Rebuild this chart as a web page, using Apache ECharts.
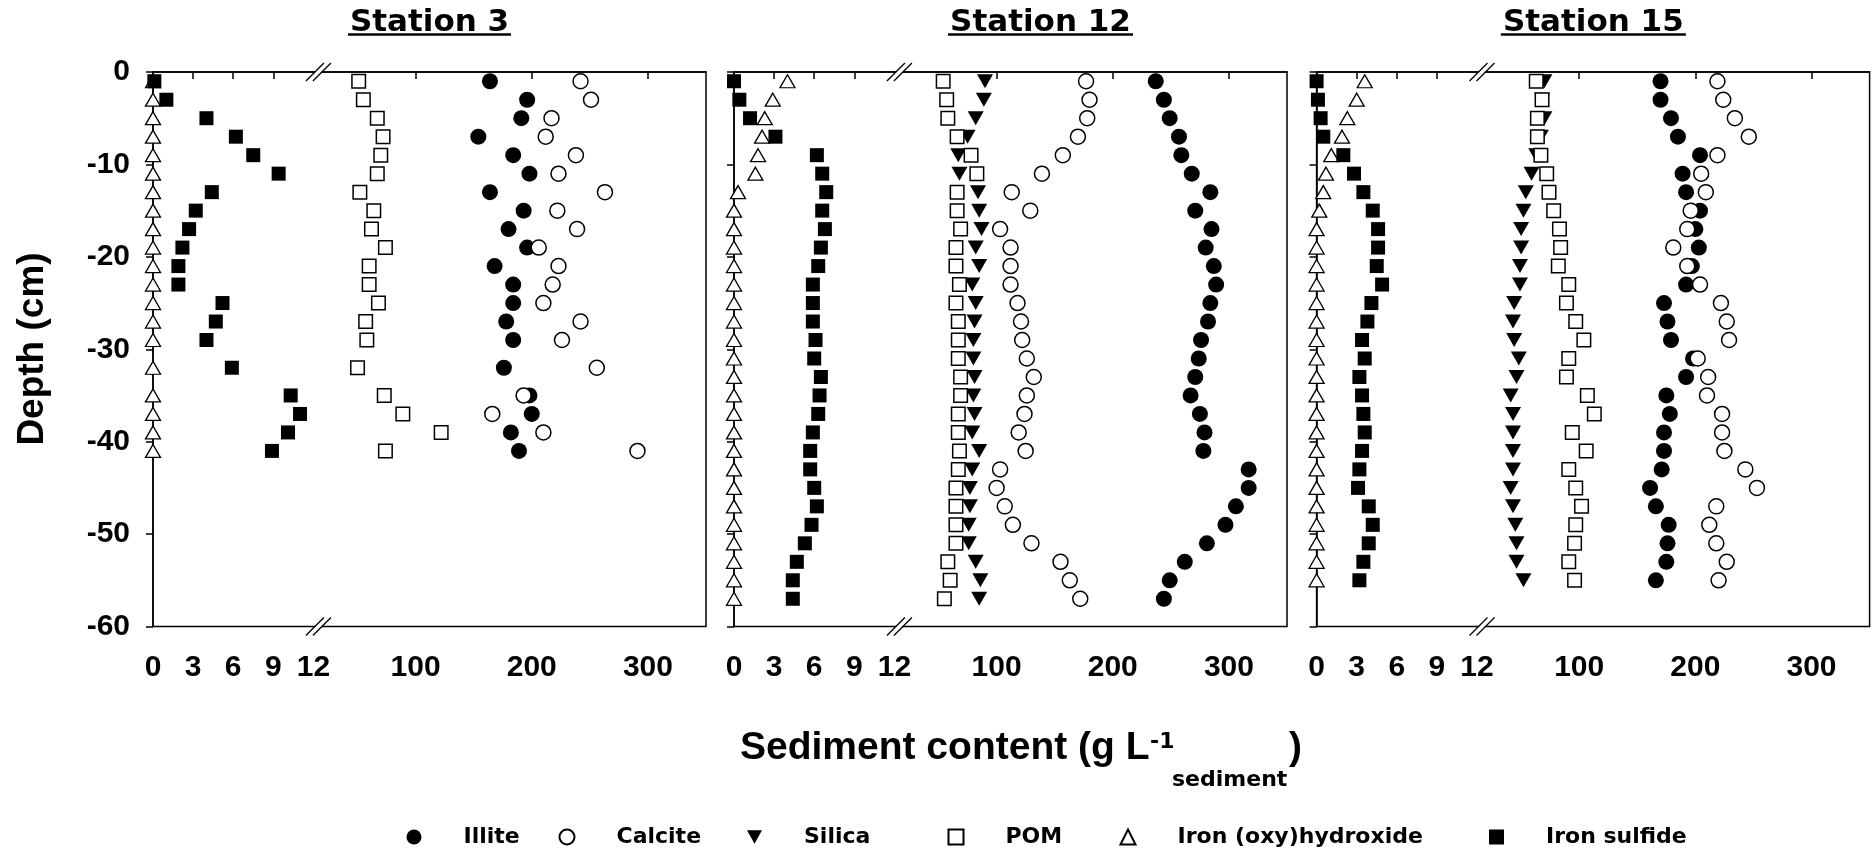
<!DOCTYPE html>
<html><head><meta charset="utf-8">
<script src="https://cdn.jsdelivr.net/npm/echarts@6/dist/echarts.min.js"></script>
<style>html,body{margin:0;padding:0;background:#fff}#c{width:1872px;height:852px}</style>
</head><body><div id="c"></div>
<script>
// ---------- DATA ----------
const stationNames = ['Station 3', 'Station 12', 'Station 15'];
const seriesNames = ['Illite', 'Calcite', 'Silica', 'POM', 'Iron (oxy)hydroxide', 'Iron sulfide'];
const depthTicks = [0, -10, -20, -30, -40, -50, -60];
const lowTickLabels = [0, 3, 6, 9, 12];
const lowTickMarks = [0, 3, 6, 9];
const highTickLabels = [100, 200, 300];

// Station 3
const st3Depth = [-1,-3,-5,-7,-9,-11,-13,-15,-17,-19,-21,-23,-25,-27,-29,-32,-35,-37,-39,-41];
const st3Illite = [164,196,191,154,184,198,164,193,180,196,168,184,184,178,184,176,198,200,182,189];
const st3Calcite = [242,251,217,212,238,223,263,222,239,206,223,218,210,242,226,256,193,166,210,291];
const st3POM = [51,55,67,72,70,67,52,64,62,74,60,60,68,57,58,50,73,89,122,74];
const st3IronOxy = [0,0,0,0,0,0,0,0,0,0,0,0,0,0,0,0,0,0,0,0];
const st3IronSulfide = [0.1,1.0,4.0,6.2,7.5,9.4,4.4,3.2,2.7,2.2,1.9,1.9,5.2,4.7,4.0,5.9,10.3,11.0,10.1,8.9];

// Station 12
const st12Depth = [-1,-3,-5,-7,-9,-11,-13,-15,-17,-19,-21,-23,-25,-27,-29,-31,-33,-35,-37,-39,-41,-43,-45,-47,-49,-51,-53,-55,-57];
const st12Illite = [237,244,249,257,259,268,284,271,285,280,287,289,284,282,276,274,271,267,275,279,278,317,317,306,297,281,262,249,244];
const st12Calcite = [177,180,178,170,157,139,113,129,103,112,112,112,118,121,122,126,132,126,124,119,125,103,100,107,114,130,155,163,172];
const st12Silica = [90,89,82,75,67,68,84,85,87,82,85,79,82,81,80,80,81,80,81,79,85,79,77,77,76,76,82,86,85];
const st12POM = [54,57,58,66,78,83,66,66,69,65,65,68,65,67,67,67,69,69,67,67,68,67,65,65,65,65,58,60,55];
const st12IronOxy = [4.0,2.9,2.3,2.1,1.8,1.6,0.3,0,0,0,0,0,0,0,0,0,0,0,0,0,0,0,0,0,0,0,0,0,0];
const st12IronSulfide = [0,0.4,1.2,3.1,6.2,6.6,6.9,6.6,6.8,6.5,6.3,5.9,5.9,5.9,6.1,6.0,6.5,6.4,6.3,5.9,5.7,5.7,6.0,6.2,5.8,5.3,4.7,4.4,4.4];

// Station 15
const st15Depth = [-1,-3,-5,-7,-9,-11,-13,-15,-17,-19,-21,-23,-25,-27,-29,-31,-33,-35,-37,-39,-41,-43,-45,-47,-49,-51,-53,-55];
const st15Illite = [170,170,179,185,204,189,192,204,200,203,197,192,173,176,179,198,192,175,178,173,173,171,161,166,177,176,175,166];
const st15Calcite = [219,224,234,246,219,205,209,196,193,181,193,204,222,227,229,202,211,210,223,223,225,243,253,218,212,218,227,220];
const st15Silica = [70,68,70,67,63,59,54,52,50,50,49,49,44,43,44,48,46,41,43,43,43,43,41,43,45,46,46,52];
const st15POM = [63,68,64,64,67,72,74,78,83,84,82,91,89,97,104,91,89,107,113,94,106,91,97,102,97,96,91,96];
const st15IronOxy = [3.6,3.0,2.3,1.9,1.1,0.7,0.5,0.2,0,0,0,0,0,0,0,0,0,0,0,0,0,0,0,0,0,0,0,0];
const st15IronSulfide = [0,0.1,0.3,0.5,2.0,2.8,3.5,4.2,4.6,4.6,4.5,4.9,4.1,3.8,3.4,3.6,3.2,3.4,3.5,3.6,3.4,3.2,3.1,3.9,4.2,3.9,3.5,3.2];

// ---------- LAYOUT / STYLE ----------
const PANEL_LEFT = [153, 734, 1316.6];
const PANEL_W = 553, LOW_W = 160.4, TOP = 72, PLOT_H = 554.5;
const LOW_MAX = 12, HIGH_MIN = 12, HIGH_MAX = 350;
const TITLE_CX = [429.5, 1040.5, 1593.3];
const TICK_FONT = {fontFamily: '"Liberation Sans", Arial, sans-serif', fontWeight: 'bold', fontSize: 30, color: '#000'};
const WIDE_FONT = '"DejaVu Sans", sans-serif';

const stations = [
  {depth: st3Depth, vals: [st3Illite, st3Calcite, null, st3POM, st3IronOxy, st3IronSulfide]},
  {depth: st12Depth, vals: [st12Illite, st12Calcite, st12Silica, st12POM, st12IronOxy, st12IronSulfide]},
  {depth: st15Depth, vals: [st15Illite, st15Calcite, st15Silica, st15POM, st15IronOxy, st15IronSulfide]}
];

const markStyles = [
  {symbol: 'circle', symbolSize: 16, itemStyle: {color: '#000', opacity: 1}, low: false},
  {symbol: 'circle', symbolSize: 15, itemStyle: {color: '#fff', borderColor: '#000', borderWidth: 1.5, opacity: 1}, low: false},
  {symbol: 'path://M0,0L10,0L5,9Z', symbolSize: [16, 14], itemStyle: {color: '#000', opacity: 1}, low: false},
  {symbol: 'rect', symbolSize: 13.5, itemStyle: {color: '#fff', borderColor: '#000', borderWidth: 1.5, opacity: 1}, low: false},
  {symbol: 'triangle', symbolSize: [15, 13], itemStyle: {color: '#fff', borderColor: '#000', borderWidth: 1.3, opacity: 1}, low: true},
  {symbol: 'rect', symbolSize: 14, itemStyle: {color: '#000', opacity: 1}, low: true}
];

const grid = [], xAxis = [], yAxis = [], series = [], graphic = [];
const axisLineStyle = {color: '#000', width: 1.5};

stations.forEach((st, p) => {
  const L = PANEL_LEFT[p];
  grid.push({left: L, top: TOP, width: LOW_W, height: PLOT_H, outerBoundsMode: 'none'});
  grid.push({left: L + LOW_W, top: TOP, width: PANEL_W - LOW_W, height: PLOT_H, outerBoundsMode: 'none'});
  const gi = 2 * p;
  xAxis.push({
    gridIndex: gi, type: 'value', min: 0, max: LOW_MAX, interval: 3,
    axisLine: {show: true, lineStyle: axisLineStyle},
    axisTick: {show: true, length: 7, lineStyle: axisLineStyle, customValues: lowTickMarks},
    axisLabel: Object.assign({margin: 26, customValues: lowTickLabels}, TICK_FONT),
    splitLine: {show: false}
  });
  xAxis.push({
    gridIndex: gi + 1, type: 'value', min: HIGH_MIN, max: HIGH_MAX,
    axisLine: {show: true, lineStyle: axisLineStyle},
    axisTick: {show: true, length: 7, lineStyle: axisLineStyle, customValues: highTickLabels},
    axisLabel: Object.assign({margin: 26, customValues: highTickLabels}, TICK_FONT),
    splitLine: {show: false}
  });
  yAxis.push({
    gridIndex: gi, type: 'value', min: -60, max: 0, interval: 10,
    axisLine: {show: true, lineStyle: axisLineStyle},
    axisTick: {show: true, length: 7, lineStyle: axisLineStyle},
    axisLabel: Object.assign({show: p === 0, margin: 23}, TICK_FONT),
    splitLine: {show: false}
  });
  yAxis.push({gridIndex: gi + 1, type: 'value', min: -60, max: 0, show: false, splitLine: {show: false}});

  seriesNames.forEach((name, s) => {
    const vals = st.vals[s];
    if (!vals) return;
    const ms = markStyles[s];
    const idx = ms.low ? gi : gi + 1;
    series.push({
      name: name, type: 'scatter', xAxisIndex: idx, yAxisIndex: idx,
      symbol: ms.symbol, symbolSize: ms.symbolSize, itemStyle: ms.itemStyle,
      emphasis: {disabled: true}, silent: true, z: 2 + s,
      data: st.depth.map((d, i) => [vals[i], d])
    });
  });

  graphic.push({type: 'rect', shape: {x: L, y: TOP, width: PANEL_W, height: PLOT_H},
    style: {fill: 'none', stroke: '#000', lineWidth: 1.5}, z: 1, silent: true});
  const cx = L + LOW_W + 5;
  [TOP, TOP + PLOT_H].forEach(y => {
    graphic.push({type: 'polygon', shape: {points: [[cx - 12, y + 9], [cx + 6, y - 9], [cx + 12, y - 9], [cx - 6, y + 9]]},
      style: {fill: '#fff', stroke: null}, z: 50, silent: true});
    graphic.push({type: 'line', shape: {x1: cx - 12.5, y1: y + 9, x2: cx + 5.5, y2: y - 9}, style: {stroke: '#000', lineWidth: 1.3}, z: 51, silent: true});
    graphic.push({type: 'line', shape: {x1: cx - 5.5, y1: y + 9, x2: cx + 12.5, y2: y - 9}, style: {stroke: '#000', lineWidth: 1.3}, z: 51, silent: true});
  });
  graphic.push({type: 'text', x: TITLE_CX[p], y: 22.5, z: 60, silent: true,
    style: {text: stationNames[p], fontFamily: WIDE_FONT, fontWeight: 'bold', fontSize: 31, fill: '#000', align: 'center', verticalAlign: 'middle'}});
});

const TITLE_HALF_W = [81.5, 92.5, 92.5];
TITLE_CX.forEach((c, p) => {
  graphic.push({type: 'line', shape: {x1: c - TITLE_HALF_W[p], y1: 34.5, x2: c + TITLE_HALF_W[p], y2: 34.5},
    style: {stroke: '#000', lineWidth: 2.5}, z: 61, silent: true});
});

graphic.push({type: 'text', x: 33, y: 349, rotation: Math.PI / 2, silent: true,
  style: {text: 'Depth (cm)', fontFamily: '"Liberation Sans", Arial, sans-serif', fontWeight: 'bold', fontSize: 37, fill: '#000', align: 'center', verticalAlign: 'middle'}});
graphic.push({type: 'text', x: 740, y: 748, silent: true,
  style: {text: 'Sediment content (g L', fontFamily: '"Liberation Sans", Arial, sans-serif', fontWeight: 'bold', fontSize: 39, fill: '#000', align: 'left', verticalAlign: 'middle'}});
graphic.push({type: 'text', x: 1150, y: 742, silent: true,
  style: {text: '-1', fontFamily: WIDE_FONT, fontWeight: 'bold', fontSize: 22, fill: '#000', align: 'left', verticalAlign: 'middle'}});
graphic.push({type: 'text', x: 1172, y: 780, silent: true,
  style: {text: 'sediment', fontFamily: WIDE_FONT, fontWeight: 'bold', fontSize: 22, fill: '#000', align: 'left', verticalAlign: 'middle'}});
graphic.push({type: 'text', x: 1289, y: 748, silent: true,
  style: {text: ')', fontFamily: '"Liberation Sans", Arial, sans-serif', fontWeight: 'bold', fontSize: 39, fill: '#000', align: 'left', verticalAlign: 'middle'}});

const LEGEND_ICON_CX = [414, 566, 754.5, 955, 1127, 1496.5];
const legend = seriesNames.map((n, i) => ({
  data: [n], left: LEGEND_ICON_CX[i] - 7.5, top: 826, padding: 0, itemGap: 0,
  itemWidth: 15, itemHeight: 15, selectedMode: false,
  textStyle: {fontFamily: WIDE_FONT, fontWeight: 'bold', fontSize: 22, color: '#000', padding: [0, 0, 0, 37]}
}));

const chart = echarts.init(document.getElementById('c'), null, {renderer: 'canvas'});
chart.setOption({
  animation: false, backgroundColor: '#fff',
  grid, xAxis, yAxis, series, legend, graphic
});
</script>
</body></html>
